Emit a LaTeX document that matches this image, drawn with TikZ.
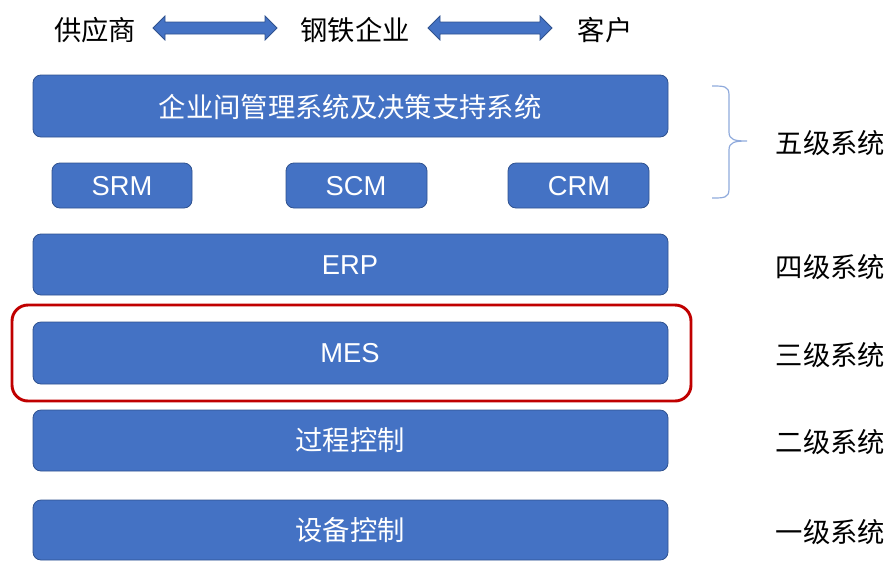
\documentclass[tikz,border=0pt]{standalone}
\usepackage{fontspec}
\setmainfont{Liberation Sans}
\newfontfamily\cjk{Noto Sans CJK SC}
\definecolor{boxblue}{HTML}{4472C4}
\definecolor{boxedge}{HTML}{2F528F}
\definecolor{hilite}{HTML}{C00000}
\definecolor{bracecol}{HTML}{8FAADC}
\begin{document}
\begin{tikzpicture}[x=0.75pt,y=-0.75pt,
  tier/.style={draw=boxedge, line width=0.6pt, fill=boxblue, rounded corners=6pt,
    text=white, font=\cjk\fontsize{20.5}{24}\selectfont},
  subsys/.style={draw=boxedge, line width=0.6pt, fill=boxblue, rounded corners=6pt,
    text=white, font=\fontsize{20.5}{24}\selectfont},
  party/.style={font=\cjk\fontsize{20.5}{24}\selectfont, text=black},
  level/.style={font=\cjk\fontsize{20.5}{24}\selectfont, text=black, anchor=east},
  blockarrow/.style={draw=boxedge, line width=0.6pt, fill=boxblue}]
\useasboundingbox (0,0) rectangle (888,561);

% parties along the supply chain
\node[party] (sup) at (95,30) {供应商};
\node[party] (steel) at (355,30) {钢铁企业};
\node[party] (cust) at (605,30) {客户};

% two-way block arrows
\draw[blockarrow] (153,28) -- (165,16) -- (165,22) -- (265,22) -- (265,16) -- (277,28)
  -- (265,40) -- (265,34) -- (165,34) -- (165,40) -- cycle;
\draw[blockarrow] (428,28) -- (440,16) -- (440,22) -- (540,22) -- (540,16) -- (552,28)
  -- (540,40) -- (540,34) -- (440,34) -- (440,40) -- cycle;

% level five
\draw[tier] (33,75) rectangle (668,137);
\node[tier, draw=none, fill=none] (l5) at (350,107) {企业间管理系统及决策支持系统};
\draw[subsys] (52,163) rectangle (192,208);
\node[subsys, draw=none, fill=none] (srm) at (122,186) {SRM};
\draw[subsys] (286,163) rectangle (427,208);
\node[subsys, draw=none, fill=none] (scm) at (356,186) {SCM};
\draw[subsys] (508,163) rectangle (649,208);
\node[subsys, draw=none, fill=none] (crm) at (579,186) {CRM};

% level four
\draw[tier] (33,234) rectangle (668,295);
\node[subsys, draw=none, fill=none] (erp) at (350,265) {ERP};

% level three with its highlight frame
\draw[hilite, line width=2.2pt, rounded corners=12pt] (12,305) rectangle (691,401);
\draw[tier] (33,322) rectangle (668,384);
\node[subsys, draw=none, fill=none] (mes) at (350,353) {MES};

% level two
\draw[tier] (33,410) rectangle (668,471);
\node[tier, draw=none, fill=none] (proc) at (350,440) {过程控制};

% level one
\draw[tier] (33,500) rectangle (668,560);
\node[tier, draw=none, fill=none] (dev) at (350,530) {设备控制};

% brace grouping level five
\draw[bracecol, line width=0.9pt]
  (712,86) .. controls (724,86) and (729,86) .. (729,95) -- (729,132)
  .. controls (729,140) and (735,141) .. (747,141)
  .. controls (735,141) and (729,142) .. (729,150) -- (729,189)
  .. controls (729,198) and (724,198) .. (712,198);

% level captions
\node[level] (c5) at (890,143) {五级系统};
\node[level] (c4) at (890,267) {四级系统};
\node[level] (c3) at (890,355) {三级系统};
\node[level] (c2) at (890,442) {二级系统};
\node[level] (c1) at (890,532) {一级系统};
\end{tikzpicture}
\end{document}
